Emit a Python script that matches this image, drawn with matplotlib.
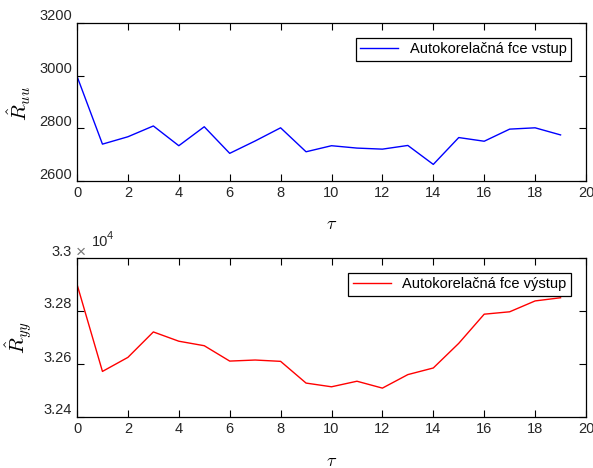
import matplotlib
matplotlib.use("Agg")
import matplotlib.pyplot as plt
import matplotlib.transforms as mtransforms
import numpy as np

plt.rcParams["font.family"] = ["Liberation Sans", "DejaVu Sans"]
plt.rcParams["mathtext.fontset"] = "cm"
plt.rcParams["font.size"] = 10.5

# lag values and estimated autocorrelations
tau = np.arange(20)
r_uu = [2998, 2740, 2768, 2809, 2734, 2806, 2705, 2752, 2802, 2711,
        2734, 2725, 2721, 2735, 2663, 2765, 2751, 2797, 2802, 2775]
r_yy = [32901, 32572, 32625, 32721, 32686, 32669, 32611, 32615, 32610, 32528,
        32514, 32535, 32509, 32560, 32585, 32678, 32788, 32797, 32838, 32850]

uu_ticks = [2600, 2800, 3000, 3200]
yy_ticks = [32400, 32600, 32800, 33000]
yy_ticklabels = ["3.24", "3.26", "3.28", "3.3"]
x_ticks = np.arange(0, 21, 2)

W, H = 593, 468
fig = plt.figure(figsize=(W / 100, H / 100), dpi=100)


def px_axes(left, top, right, bottom):
    return fig.add_axes([left / W, 1 - bottom / H, (right - left) / W, (bottom - top) / H])


def style(ax):
    ax.set_xlim(0, 20)
    ax.set_xticks(x_ticks)
    ax.tick_params(direction="in", top=True, right=True, length=5,
                   labelcolor="#262626", width=0.8)
    for s in ax.spines.values():
        s.set_linewidth(0.9)
    # raise the y tick labels a little above their ticks
    shift = mtransforms.ScaledTranslation(0, 8 / 100, fig.dpi_scale_trans)
    for lab in ax.get_yticklabels():
        lab.set_transform(lab.get_transform() + shift)


def add_legend(ax, top):
    leg = ax.legend(loc="upper right", bbox_to_anchor=(0.9705, top), borderaxespad=0,
                    fancybox=False, edgecolor="black", framealpha=1, handlelength=2.6,
                    borderpad=0.3)
    leg.get_frame().set_linewidth(0.9)


ax1 = px_axes(77, 23, 586, 181)
ax1.plot(tau, r_uu, color="#0000ff", lw=1, label="Autokorelačná fce vstup")
ax1.set_ylim(2600, 3200)
ax1.set_yticks(uu_ticks)
style(ax1)
ax1.set_xlabel(r"$\tau$", fontsize=13, va="center")
ax1.xaxis.set_label_coords(0.5, -0.278)
ax1.set_ylabel(r"$\hat{R}_{uu}$", fontsize=15, va="center")
ax1.yaxis.set_label_coords(-0.114, 0.49)
add_legend(ax1, 0.905)

ax2 = px_axes(77, 258, 586, 417)
ax2.plot(tau, r_yy, color="#ff0000", lw=1, label="Autokorelačná fce výstup")
ax2.set_ylim(32400, 33000)
ax2.set_yticks(yy_ticks)
ax2.set_yticklabels(yy_ticklabels)
style(ax2)
ax2.set_xlabel(r"$\tau$", fontsize=13, va="center")
ax2.xaxis.set_label_coords(0.5, -0.277)
ax2.set_ylabel(r"$\hat{R}_{yy}$", fontsize=15, va="center")
ax2.yaxis.set_label_coords(-0.114, 0.5)
add_legend(ax2, 0.906)

# exponent marker for the lower axis
fig.text(76 / W, 1 - 252 / H, "×", color="#777777", fontsize=12.5, ha="left", va="center")
fig.text(92 / W, 1 - 242 / H, "10", color="#262626", fontsize=10.5, ha="left", va="center")
fig.text(107 / W, 1 - 236 / H, "4", color="#262626", fontsize=8, ha="left", va="center")

fig.savefig("out.png", dpi=100)
